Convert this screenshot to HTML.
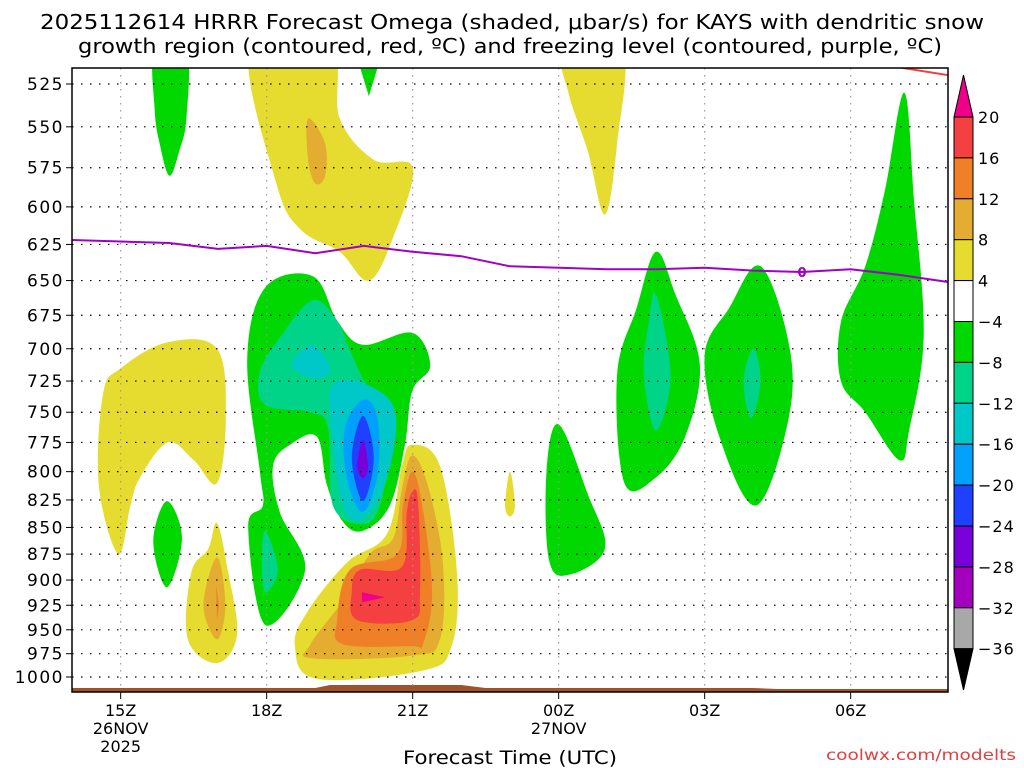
<!DOCTYPE html>
<html><head><meta charset="utf-8"><style>
body{margin:0;background:#fff;width:1024px;height:768px;overflow:hidden}
svg{display:block;font-family:"DejaVu Sans","Liberation Sans",sans-serif}
</style></head><body>
<svg id="c" width="1024" height="768">
<text x="512" y="29" text-anchor="middle" font-size="20" textLength="944" lengthAdjust="spacingAndGlyphs">2025112614 HRRR Forecast Omega (shaded, μbar/s) for KAYS with dendritic snow</text>
<text x="510" y="53" text-anchor="middle" font-size="20" textLength="864" lengthAdjust="spacingAndGlyphs">growth region (contoured, red, ºC) and freezing level (contoured, purple, ºC)</text>
<g id="plot"></g>
<text x="510" y="764" text-anchor="middle" font-size="19" textLength="214" lengthAdjust="spacingAndGlyphs">Forecast Time (UTC)</text>
<text x="1016" y="760" text-anchor="end" font-size="15" fill="#e04040" textLength="190" lengthAdjust="spacingAndGlyphs">coolwx.com/modelts</text>
</svg>
<script>
const pLevels=[525,550,575,600,625,650,675,700,725,750,775,800,825,850,875,900,925,950,975,1000];
const hourTicks=[15,18,21,24,27,30];
const hourLabels=["15Z","18Z","21Z","00Z","03Z","06Z"];
const fzHours=[14,15,16,17,18,19,20,21,22,23,24,25,26,27,28,29,30,31,32];
const fzPres=[622,623,624,628,626,631,626,630,633,640,641,642,642,641,643,644,642,646,651];
const dgzHours=[30.4,32];
const dgzPres=[513,520];
const cbLevels=[20,16,12,8,4,-4,-8,-12,-16,-20,-24,-28,-32,-36];
const cbColors=["#f44040","#f08028","#e4ac30","#e6dc30","#ffffff","#00d800","#00d488","#00c8c8","#00a0ff","#2040ff","#7800d8","#a400c0","#a8a8a8"];
const regions=[
["#00d800",[[15.7,505],[16.35,505],[16.35,545],[16.2,565],[16.0,580],[15.8,560],[15.7,540]]],
["#e6dc30",[[17.66,505],[19.3,505],[19.5,545],[20.2,570],[21.0,575],[20.6,620],[20.1,650],[19.5,630],[18.7,615],[18.2,585]]],
["#e4ac30",[[18.85,545],[19.2,560],[19.2,580],[19.0,585],[18.85,570]]],
["#00d800",[[19.8,505],[20.4,505],[20.1,532]]],
["#e6dc30",[[24.1,505],[25.3,505],[25.2,560],[24.95,605],[24.6,565],[24.2,530]]],
["#00d800",[[31.1,530],[31.3,595],[31.5,690],[31.2,765],[31.0,790],[30.3,750],[29.8,725],[29.8,680],[30.3,640],[30.7,590]]],
["#00d800",[[28.15,640],[28.75,700],[28.7,760],[28.05,830],[27.3,770],[27.0,705],[27.5,670]]],
["#00d488",[[28.0,700],[28.15,725],[27.95,755],[27.8,725]]],
["#00d800",[[26.0,630],[26.4,660],[26.9,712],[26.6,770],[26.0,805],[25.35,810],[25.2,720],[25.6,670]]],
["#00d488",[[26.0,660],[26.3,720],[26.0,765],[25.75,720],[25.85,680]]],
["#00d800",[[24.0,760],[24.6,820],[24.95,870],[24.2,895],[23.8,880],[23.75,800]]],
["#e6dc30",[[23.0,800],[23.1,830],[23.0,840],[22.9,830]]],
["#e6dc30",[[15.97,695],[16.98,700],[17.16,755],[16.98,810],[16.5,790],[15.97,775],[15.4,805],[15.2,830],[14.95,875],[14.55,812],[14.64,735],[15.0,715]]],
["#00d800",[[15.95,826],[16.26,860],[15.95,907],[15.67,863]]],
["#e6dc30",[[16.98,846],[17.2,890],[17.39,955],[16.98,985],[16.38,960],[16.45,893],[16.8,870]]],
["#e4ac30",[[16.98,878],[17.15,925],[16.98,960],[16.7,925]]],
["#f08028",[[16.96,905],[17.02,925],[16.98,940]]],
["#00d800",[[18.95,647],[19.45,679],[19.98,697],[20.99,688],[21.36,713],[20.99,733],[20.84,777],[20.53,830],[19.98,853],[19.57,845],[19.24,812],[19.03,770],[18.48,777],[18.13,795],[18.27,836],[18.79,890],[17.97,945],[17.62,850],[17.92,830],[17.86,800],[17.6,708],[17.97,655]]],
["#00d488",[[18.95,664],[19.45,679],[19.7,700],[20.06,728],[20.57,744],[20.53,777],[20.33,830],[19.96,847],[19.36,830],[19.26,763],[18.9,750],[17.97,744],[17.86,718],[18.3,690]]],
["#00c8c8",[[18.93,697],[19.3,715],[19.03,723],[18.52,713]]],
["#00c8c8",[[19.36,728],[20.06,728],[20.64,750],[20.47,806],[19.98,842],[19.57,830],[19.34,766]]],
["#00a0ff",[[19.98,740],[20.27,753],[20.29,800],[19.98,836],[19.65,806],[19.61,763]]],
["#2040ff",[[19.98,753],[20.2,788],[19.98,826],[19.75,788]]],
["#7800d8",[[19.98,773],[20.08,795],[19.98,806],[19.86,795]]],
["#00d488",[[17.97,853],[18.23,890],[17.97,912],[17.9,883]]],
["#e6dc30",[[20.99,777],[21.56,795],[21.91,893],[21.8,967],[21.21,993],[19.03,1002],[18.58,967],[18.83,932],[19.65,883],[20.47,856],[20.78,795]]],
["#e4ac30",[[20.99,786],[21.31,812],[21.62,883],[21.56,960],[20.99,977],[18.95,980],[18.9,965],[19.57,920],[20.12,875],[20.6,860],[20.78,815]]],
["#f08028",[[20.99,800],[21.19,828],[21.4,912],[21.21,965],[20.99,967],[19.57,965],[19.45,940],[19.71,890],[20.68,875],[20.8,830]]],
["#f44040",[[20.99,818],[21.11,826],[21.15,912],[20.99,940],[19.86,940],[19.75,912],[19.92,890],[20.78,887],[20.88,836]]],
["#ee0088",[[19.96,912],[20.43,917],[19.96,922]]]
];
const X0=72,X1=948,Y0=68,Y1=692,H0=14,H1=32;
const xs=h=>X0+(h-H0)*(X1-X0)/(H1-H0);
const ys=p=>84+593*(Math.log(p)-Math.log(525))/(Math.log(1000)-Math.log(525));
const NS="http://www.w3.org/2000/svg";
const plot=document.getElementById('plot');
function mk(tag,attrs,parent){const e=document.createElementNS(NS,tag);for(const k in attrs)e.setAttribute(k,attrs[k]);(parent||plot).appendChild(e);return e;}
function smooth(pts){
 const n=pts.length;if(n<4)return 'M'+pts.map(p=>p.join(',')).join('L')+'Z';
 let d='M'+pts[0][0].toFixed(1)+','+pts[0][1].toFixed(1);
 const t=0.35;
 for(let i=0;i<n;i++){
  const p0=pts[(i-1+n)%n],p1=pts[i],p2=pts[(i+1)%n],p3=pts[(i+2)%n];
  const c1=[p1[0]+(p2[0]-p0[0])*t/2,p1[1]+(p2[1]-p0[1])*t/2];
  const c2=[p2[0]-(p3[0]-p1[0])*t/2,p2[1]-(p3[1]-p1[1])*t/2];
  d+='C'+c1.map(v=>v.toFixed(1)).join(',')+' '+c2.map(v=>v.toFixed(1)).join(',')+' '+p2.map(v=>v.toFixed(1)).join(',');
 }
 return d+'Z';
}
const cp=mk('clipPath',{id:'clip'});mk('rect',{x:X0,y:Y0,width:X1-X0,height:Y1-Y0},cp);
const g=mk('g',{'clip-path':'url(#clip)'});
regions.forEach(r=>{
 const pts=r[1].map(q=>[xs(q[0]),ys(q[1])]);
 const e=mk('path',{d:smooth(pts),fill:r[0]},g);
 
 
});
const t=mk('polygon',{points:`${X0},${Y1} ${X0},688 ${xs(19)},688 ${xs(19.3)},685 ${xs(22)},685 ${xs(22.5)},688 ${xs(28)},688 ${xs(28.5)},689 ${X1},689 ${X1},${Y1}`,fill:'#a0522d'},g);


pLevels.forEach(p=>{
 const y=ys(p);
 const l=mk('line',{x1:X0,x2:X1,y1:y,y2:y,stroke:'#000','stroke-width':1.2,'stroke-dasharray':'1.5 7.5'},g);
 
 
 const tk=mk('line',{x1:X0-6,x2:X0,y1:y,y2:y,stroke:'#000'});
 
 
 const tx=mk('text',{x:X0-8,y:y+6,'text-anchor':'end','font-size':17,'letter-spacing':'1.5'});tx.textContent=p;
 
 
});
hourTicks.forEach((h,i)=>{
 const x=xs(h);
 const l=mk('line',{x1:x,x2:x,y1:Y0,y2:Y1,stroke:'#999','stroke-width':1.2,'stroke-dasharray':'1.5 5.5'},g);
 
 
 const tk=mk('line',{x1:x,x2:x,y1:Y1,y2:Y1+7,stroke:'#000'});
 
 
 const tx=mk('text',{x:x,y:716,'text-anchor':'middle','font-size':16});tx.textContent=hourLabels[i];
 
 
});
[["26NOV",15,734],["2025",15,752],["27NOV",24,734]].forEach(d=>{
 const tx=mk('text',{x:xs(d[1]),y:d[2],'text-anchor':'middle','font-size':16});tx.textContent=d[0];
 
 
});
const fz=mk('polyline',{points:fzHours.map((h,i)=>xs(h).toFixed(1)+','+ys(fzPres[i]).toFixed(1)).join(' '),fill:'none',stroke:'#a000c8','stroke-width':2},g);


const fzl=mk('text',{x:xs(29),y:ys(644)+5,'text-anchor':'middle','font-size':13,fill:'#a000c8','font-weight':'bold'},g);fzl.textContent='0';


const dg=mk('polyline',{points:dgzHours.map((h,i)=>xs(h)+','+ys(dgzPres[i])).join(' '),fill:'none',stroke:'#f04040','stroke-width':2},g);


const fr=mk('rect',{x:X0,y:Y0,width:X1-X0,height:Y1-Y0,fill:'none',stroke:'#000','stroke-width':1.5});


const CX=954,CW=19,CT=117,CS=40.9;
const up=mk('polygon',{points:`${CX},${CT} ${CX+CW},${CT} ${CX+CW/2},75`,fill:'#ee0088',stroke:'#000'});


cbColors.forEach((c,i)=>{
 const r=mk('rect',{x:CX,y:CT+i*CS,width:CW,height:CS,fill:c,stroke:'#000'});
 
 
});
const dn=mk('polygon',{points:`${CX},${CT+13*CS} ${CX+CW},${CT+13*CS} ${CX+CW/2},690`,fill:'#000',stroke:'#000'});


cbLevels.forEach((v,i)=>{
 const tx=mk('text',{x:978,y:CT+i*CS+6,'font-size':16,'letter-spacing':'1'});tx.textContent=v<0?'−'+(-v):String(v);
 
 
});
</script>
</body></html>
